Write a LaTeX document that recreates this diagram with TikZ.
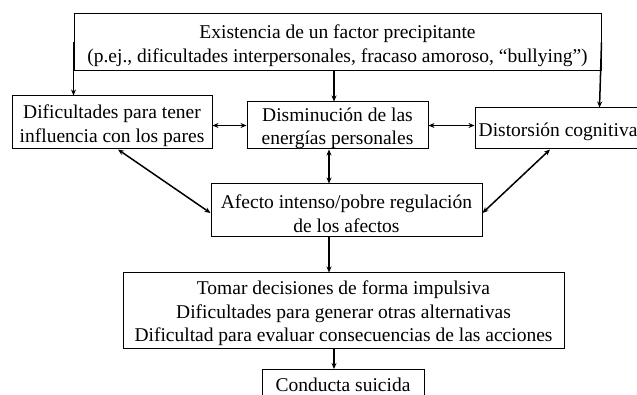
\documentclass[tikz,border=0pt]{standalone}
\usepackage{fontspec}
\setmainfont{Liberation Serif}
\usetikzlibrary{arrows.meta}
\begin{document}
\begin{tikzpicture}[x=1pt,y=-1pt,
  box/.style={draw, line width=1pt, inner sep=0pt},
  txt/.style={align=center, inner sep=0pt, yshift=-3pt, font=\fontsize{19.5}{23.5}\selectfont},
  arr/.style={line width=1.5pt, -{Stealth[length=6pt,width=5pt]}},
  darr/.style={line width=1.5pt, {Stealth[length=6pt,width=5pt]}-{Stealth[length=6pt,width=5pt]}}]
\useasboundingbox (0,0) rectangle (637,395);
\clip (0,0) rectangle (637,395);
\node[box, minimum width=527pt, minimum height=57pt,
  label={[txt]center:{Existencia de un factor precipitante\\(p.ej., dificultades interpersonales, fracaso amoroso, “bullying”)}}] (top) at (337.5,42.5) {};
\node[box, minimum width=200pt, minimum height=53pt,
  label={[txt]center:{Dificultades para tener\\influencia con los pares}}] (dif) at (112,122.5) {};
\node[box, minimum width=181pt, minimum height=47pt,
  label={[txt]center:{Disminución de las\\energías personales}}] (dism) at (337.5,125.5) {};
\node[box, minimum width=175pt, minimum height=41pt,
  label={[txt, anchor=west, xshift=4pt]west:{Distorsión cognitiva}}] (dist) at (562.5,128.5) {};
\node[box, minimum width=271pt, minimum height=53pt,
  label={[txt]center:{Afecto intenso/pobre regulación\\de los afectos}}] (afecto) at (346.5,210.5) {};
\node[box, minimum width=441pt, minimum height=75pt,
  label={[txt]center:{Tomar decisiones de forma impulsiva\\Dificultades para generar otras alternativas\\Dificultad para evaluar consecuencias de las acciones}}] (tomar) at (343.5,310.5) {};
\node[box, minimum width=162pt, minimum height=35pt, anchor=north,
  label={[txt, yshift=5pt]center:{Conducta suicida}}] (cond) at (343,369) {};
\draw[arr] (top.west) -- (top.west |- dif.north);
\draw[arr] (top.east) -- ([xshift=-2pt]top.east |- dist.north);
\draw[arr] ([xshift=-3.5pt]top.south) -- ([xshift=-3.5pt]top.south |- dism.north);
\draw[darr] (dism.west) -- (dism.west -| dif.east);
\draw[darr] (dism.east) -- (dism.east -| dist.west);
\draw[darr] ([xshift=-8.5pt]dism.south) -- ([xshift=-8.5pt]dism.south |- afecto.north);
\draw[darr] ([xshift=6pt]dif.south) -- ([yshift=-2.5pt]afecto.west);
\draw[darr] ([xshift=-12.5pt]dist.south) -- ([yshift=-2.5pt]afecto.east);
\draw[arr] ([xshift=-17.5pt]afecto.south) -- ([xshift=-17.5pt]afecto.south |- tomar.north);
\draw[arr] ([xshift=-9.5pt]tomar.south) -- ([xshift=-9.5pt]tomar.south |- cond.north);
\end{tikzpicture}
\end{document}
